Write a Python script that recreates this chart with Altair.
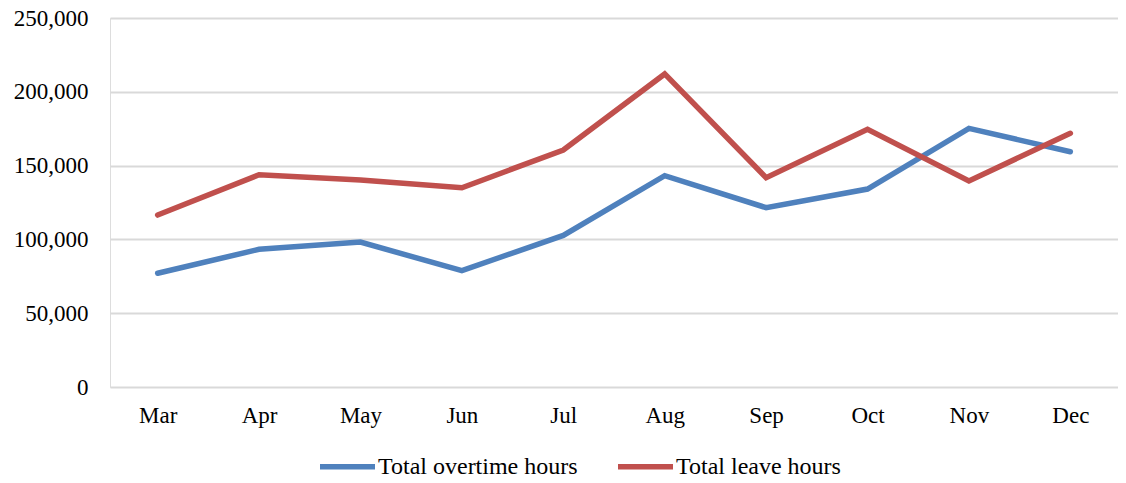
import altair as alt
import pandas as pd

months = ["Mar", "Apr", "May", "Jun", "Jul", "Aug", "Sep", "Oct", "Nov", "Dec"]
overtime = [77100, 93300, 98200, 78800, 102700, 143200, 121500, 134100, 175200, 159400]
leave = [116500, 143800, 140200, 135000, 160600, 212100, 141800, 174600, 139600, 171900]
series_names = ["Total overtime hours", "Total leave hours"]
series_colors = ["#4f81bd", "#c0504d"]
y_ticks = [0, 50000, 100000, 150000, 200000, 250000]

rows = []
for m, v in zip(months, overtime):
    rows.append({"month": m, "series": series_names[0], "value": v})
for m, v in zip(months, leave):
    rows.append({"month": m, "series": series_names[1], "value": v})
df = pd.DataFrame(rows)

FONT = "Liberation Serif"

chart = alt.Chart(df).mark_line(strokeWidth=5.5, strokeCap="round").encode(
    x=alt.X("month:N", sort=months, title=None,
            scale=alt.Scale(type="point", padding=0.47),
            axis=alt.Axis(labelAngle=0, ticks=False, domain=False, grid=False,
                          labelFont=FONT, labelFontSize=23, labelColor="#000000",
                          labelPadding=17)),
    y=alt.Y("value:Q", title=None,
            scale=alt.Scale(domain=[0, 250000], nice=False),
            axis=alt.Axis(values=y_ticks, format=",.0f", ticks=False, domain=False,
                          grid=True, gridColor="#d9d9d9", gridWidth=2,
                          labelFont=FONT, labelFontSize=23, labelColor="#000000",
                          labelPadding=22)),
    color=alt.Color("series:N", sort=series_names,
                    scale=alt.Scale(domain=series_names, range=series_colors),
                    legend=alt.Legend(title=None, orient="none", direction="horizontal",
                                      legendX=207, legendY=418,
                                      symbolType="stroke", symbolSize=3025,
                                      symbolStrokeWidth=5.5, labelFont=FONT,
                                      labelFontSize=24, labelColor="#000000",
                                      labelLimit=0, labelOffset=0,
                                      columnPadding=29, padding=0)),
).properties(
    width=1008, height=369,
    autosize=alt.AutoSizeParams(type="none"),
    padding={"left": 102, "top": 10, "right": 0, "bottom": 94},
).configure_view(stroke=None).configure(background="#ffffff")

chart.save("out.html", embed_options={"renderer": "svg", "actions": False})
